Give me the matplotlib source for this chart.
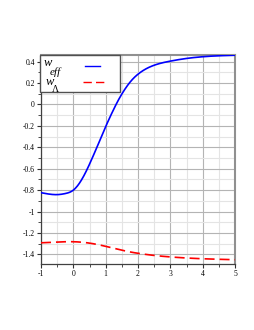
import matplotlib
matplotlib.use("Agg")
import matplotlib.pyplot as plt
from matplotlib.ticker import MultipleLocator, FixedLocator
from matplotlib.patches import Rectangle
from matplotlib.lines import Line2D
import numpy as np

# data
x_weff = [-1, -0.75, -0.5, -0.25, 0, 0.2, 0.4, 0.6, 0.8, 1.0, 1.2, 1.4, 1.6, 1.8, 2.0, 2.4, 3.0, 3.5, 4.0, 4.5, 5.0]
w_eff = [-0.824, -0.837, -0.842, -0.832, -0.80, -0.73, -0.622, -0.49, -0.35, -0.207, -0.075, 0.045, 0.145, 0.225, 0.283, 0.355, 0.405, 0.43, 0.446, 0.455, 0.46]
x_wl = [-1, -0.5, 0, 0.5, 1.0, 1.5, 2.0, 2.5, 3.0, 3.5, 4.0, 4.5, 5.0]
w_lambda = [-1.292, -1.285, -1.282, -1.295, -1.325, -1.362, -1.39, -1.41, -1.424, -1.434, -1.441, -1.446, -1.45]

xticks = [-1, 0, 1, 2, 3, 4, 5]
yticks = [0.4, 0.2, 0, -0.2, -0.4, -0.6, -0.8, -1, -1.2, -1.4]

fig = plt.figure(figsize=(2.55, 3.3), dpi=100)
ax = fig.add_axes([41/255, 1-264/330, (235-41)/255, (264-54.7)/330])

def spline(xs, ys, n=400):
    # natural cubic spline through the read points
    xs = np.asarray(xs, float); ys = np.asarray(ys, float)
    N = len(xs); h = np.diff(xs)
    A = np.zeros((N, N)); b = np.zeros(N)
    A[0, 0] = A[-1, -1] = 1
    for i in range(1, N-1):
        A[i, i-1] = h[i-1]; A[i, i] = 2*(h[i-1]+h[i]); A[i, i+1] = h[i]
        b[i] = 6*((ys[i+1]-ys[i])/h[i] - (ys[i]-ys[i-1])/h[i-1])
    M = np.linalg.solve(A, b)
    xn = np.linspace(xs[0], xs[-1], n)
    k = np.clip(np.searchsorted(xs, xn, side='right') - 1, 0, N-2)
    t1 = xs[k+1] - xn; t0 = xn - xs[k]; hk = h[k]
    yn = (M[k]*t1**3 + M[k+1]*t0**3)/(6*hk) + (ys[k]/hk - M[k]*hk/6)*t1 + (ys[k+1]/hk - M[k+1]*hk/6)*t0
    return xn, yn

xa, ya = spline(x_weff, w_eff)
xb, yb = spline(x_wl, w_lambda)
ax.plot(xa, ya, color='#0000ff', lw=1.2, zorder=3)
ax.plot(xb, yb, color='#ff0000', lw=1.2, ls=(0, (6, 3)), zorder=3)

ax.set_xlim(-1, 5)
ax.set_ylim(-1.49, 0.465)

ax.xaxis.set_major_locator(FixedLocator(xticks))
ax.yaxis.set_major_locator(FixedLocator(yticks))
ax.xaxis.set_minor_locator(MultipleLocator(0.5))
ax.yaxis.set_minor_locator(MultipleLocator(0.1))
ax.set_xticklabels([str(t) for t in xticks])
ax.set_yticklabels([("%g" % t) for t in yticks])

ax.grid(which='major', color='#b4b4b4', lw=0.8, zorder=0)
ax.grid(which='minor', color='#e4e4e4', lw=0.8, zorder=0)
ax.set_axisbelow(True)

for s in ['left', 'bottom']:
    ax.spines[s].set_color('#404040'); ax.spines[s].set_linewidth(0.9)
for s in ['right', 'top']:
    ax.spines[s].set_color('#909090'); ax.spines[s].set_linewidth(1.5)

ax.tick_params(which='major', length=3, width=0.8, color='#303030', labelsize=5.5, pad=1.5)
ax.tick_params(which='minor', length=2, width=0.6, color='#303030')
ax.tick_params(top=False, right=False)
for lab in ax.get_xticklabels() + ax.get_yticklabels():
    lab.set_family('Liberation Serif')

# legend box
fig.patches.append(Rectangle((40/255, 1-92/330), 80/255, 37.5/330, transform=fig.transFigure,
                             facecolor='white', edgecolor='#505050', lw=1.0, zorder=10))
fig.text(44/255, 1-63/330, 'w', family='Liberation Serif', style='italic', fontsize=9, va='center', zorder=11)
fig.text(50/255, 1-72/330, 'eff', family='Liberation Serif', style='italic', fontsize=8, va='center', zorder=11)
fig.text(46/255, 1-82/330, 'w', family='Liberation Serif', style='italic', fontsize=9, va='center', zorder=11)
fig.text(52/255, 1-90/330, 'Λ', family='Liberation Serif', fontsize=7, va='center', zorder=11)
fig.lines.append(Line2D([85/255, 100/255], [1-66/330, 1-66/330], transform=fig.transFigure,
                        color='#0000ff', lw=1.0, zorder=11))
fig.lines.append(Line2D([83/255, 104/255], [1-82/330, 1-82/330], transform=fig.transFigure,
                        color='#ff0000', lw=1.0, ls=(0, (6, 3)), zorder=11))

fig.savefig('out.png', dpi=100)
